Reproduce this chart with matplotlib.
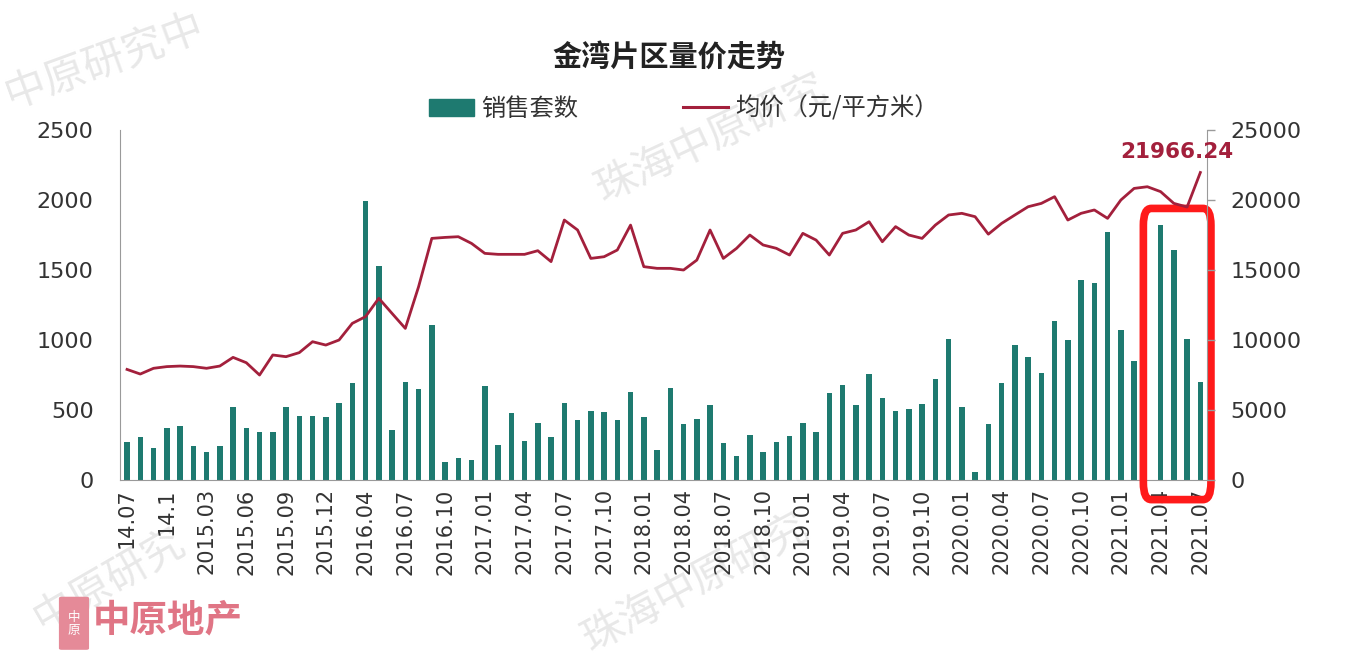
import numpy as np
import matplotlib
matplotlib.use('Agg')
import matplotlib.pyplot as plt
from matplotlib.patches import FancyBboxPatch, Rectangle
from matplotlib.lines import Line2D

plt.rcParams['font.family'] = ['DejaVu Sans', 'Noto Sans CJK SC']

# 月度数据 (82 个月, 部分月份缺失)
tick_labels = ['14.07', '14.1', '2015.03', '2015.06', '2015.09', '2015.12',
               '2016.04', '2016.07', '2016.10', '2017.01', '2017.04', '2017.07',
               '2017.10', '2018.01', '2018.04', '2018.07', '2018.10', '2019.01',
               '2019.04', '2019.07', '2019.10', '2020.01', '2020.04', '2020.07',
               '2020.10', '2021.01', '2021.04', '2021.07']

sales = [270, 310, 230, 370, 385, 240, 200, 240, 520, 370,
         340, 340, 520, 460, 460, 450, 550, 690, 1990, 1530,
         360, 700, 650, 1110, 130, 155, 145, 670, 250, 480,
         280, 410, 310, 550, 430, 490, 485, 430, 630, 450,
         215, 655, 400, 435, 535, 265, 170, 325, 200, 275,
         315, 410, 340, 620, 680, 535, 760, 585, 495, 505,
         545, 725, 1005, 520, 55, 400, 695, 965, 880, 765,
         1135, 1000, 1430, 1410, 1770, 1070, 850, 0, 1820, 1640,
         1005, 700]

price = [7900, 7570, 7980, 8100, 8140, 8100, 7980, 8140, 8760, 8380,
         7500, 8930, 8810, 9100, 9880, 9640, 10000, 11190, 11670, 12980,
         11900, 10830, 13800, 17260, 17330, 17380, 16900, 16190, 16120, 16120,
         16120, 16380, 15600, 18570, 17860, 15830, 15950, 16430, 18210, 15240,
         15120, 15120, 15000, 15710, 17860, 15830, 16550, 17500, 16790, 16550,
         16070, 17620, 17140, 16070, 17620, 17860, 18450, 17020, 18100, 17500,
         17260, 18210, 18930, 19050, 18810, 17560, 18330, 18930, 19520, 19760,
         20240, 18570, 19050, 19290, 18690, 20000, 20830, 20950, 20600, 19760,
         19500, 21966.24]

highlight = (78, 81)  # 红框标出的月份

bar_color = '#1e7a70'
line_color = '#a3203c'
axis_gray = '#9a9a9a'
text_color = '#333333'

x = np.arange(len(sales))

fig = plt.figure(figsize=(13.7, 6.72), dpi=100)
fig.patch.set_facecolor('white')

# 水印 (画在坐标轴之下)
wm = dict(color='#e8e8e8', fontsize=30, fontfamily='Noto Sans CJK SC', zorder=-1)
fig.text(0.0, 0.84, '中原研究中', rotation=20, **wm)
fig.text(0.43, 0.70, '珠海中原研究', rotation=25, **wm)
fig.text(0.02, 0.06, '中原研究', rotation=30, **wm)
fig.text(0.42, 0.03, '珠海中原研究', rotation=28, **wm)

ax = fig.add_axes([0.0876, 0.2857, 0.7934, 0.5208])
ax.set_facecolor('none')
ax.bar(x, sales, width=0.42, color=bar_color, zorder=2)
ax.set_xlim(-0.53, 81.5)
ax.set_ylim(0, 2500)
ax.set_yticks(np.arange(0, 2501, 500))
ax.tick_params(axis='y', length=0, pad=19, labelsize=16, labelcolor=text_color)
ax.set_xticks(x[::3])
ax.set_xticklabels(tick_labels, rotation=90, fontsize=15, color=text_color)
ax.tick_params(axis='x', length=0, pad=6)
for s in ['top', 'right']:
    ax.spines[s].set_visible(False)
ax.spines['left'].set_color(axis_gray)
ax.spines['bottom'].set_color(axis_gray)

ax2 = ax.twinx()
ax2.plot(x, price, color=line_color, linewidth=2.0, zorder=3)
ax2.set_ylim(0, 25000)
ax2.set_yticks(np.arange(0, 25001, 5000))
ax2.tick_params(axis='y', length=6, width=1, color=axis_gray, pad=11,
                labelsize=16, labelcolor=text_color)
for s in ['top', 'left', 'bottom']:
    ax2.spines[s].set_visible(False)
ax2.spines['right'].set_color(axis_gray)

ax2.annotate(f'{price[-1]:.2f}', xy=(x[-1], price[-1]), xytext=(-17, 15),
             textcoords='offset points', ha='center', va='center',
             fontsize=15.5, fontweight='bold', color=line_color)

# 红框
lo, hi = highlight
box = FancyBboxPatch((lo - 1.3, -140), (hi - lo) + 2.1, 2080,
                     boxstyle='round,pad=0,rounding_size=0.6',
                     transform=ax.transData, fill=False, edgecolor='#ff1a1a',
                     linewidth=5.5, clip_on=False, zorder=5,
                     mutation_aspect=200)
ax.add_patch(box)

fig.text(0.488, 0.915, '金湾片区量价走势', ha='center', va='center',
         fontsize=21, fontweight='bold', color='#222222',
         fontfamily='Noto Sans CJK SC')

handles = [Rectangle((0, 0), 1, 1, color=bar_color),
           Line2D([0], [0], color=line_color, linewidth=2.2)]
leg = fig.legend(handles, ['销售套数', '均价（元/平方米）'], loc='center',
                 bbox_to_anchor=(0.499, 0.838), ncol=2, frameon=False,
                 handlelength=1.85, handletextpad=0.3, columnspacing=4.3,
                 prop={'family': 'Noto Sans CJK SC', 'size': 17.5})
for t in leg.get_texts():
    t.set_color(text_color)

# 中原地产 logo
fig.add_artist(FancyBboxPatch((0.045, 0.035), 0.018, 0.075,
                              boxstyle='round,pad=0.002', transform=fig.transFigure,
                              facecolor='#e58a98', edgecolor='none'))
fig.text(0.054, 0.072, '中\n原', ha='center', va='center', fontsize=9,
         color='white', fontfamily='Noto Sans CJK SC', linespacing=1.0)
fig.text(0.068, 0.078, '中原地产', ha='left', va='center', fontsize=27,
         fontweight='bold', color='#e07585', fontfamily='Noto Sans CJK SC')

fig.savefig('out.png', dpi=100)
